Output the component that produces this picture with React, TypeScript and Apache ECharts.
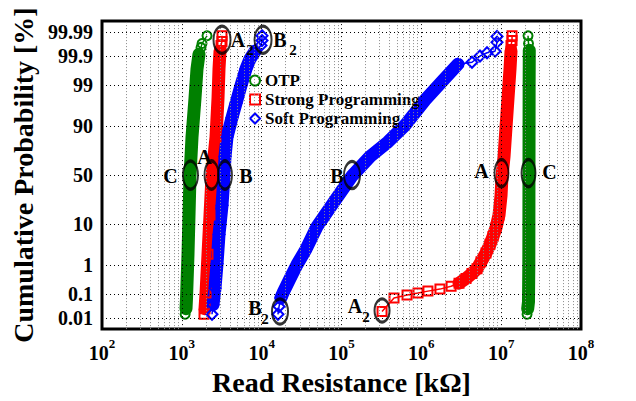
import { useEffect, useRef } from 'react';
import * as echarts from 'echarts';

// Read resistance [kΩ] vs cumulative probability [%] for three programming schemes.
// Each distribution has a dense body (drawn as a solid band) and sparse tail points.

const otpLowBody: [number, number][] = [
  [1641, 99.915], [1549, 99.71], [1462, 97.7], [1341, 83.8], [1266, 49],
  [1230, 15], [1195, 2.0], [1161, 0.25], [1145, 0.07], [1128, 0.026],
];
const otpLowTail: [number, number][] = [[2067, 99.985], [1790, 99.968], [1739, 99.954], [1100, 0.015]];

const otpHighBody: [number, number][] = [
  [2.25e7, 99.94], [2.24e7, 99], [2.23e7, 50], [2.22e7, 1], [2.2e7, 0.05], [2.15e7, 0.026],
];
const otpHighTail: [number, number][] = [[2.17e7, 99.985], [2.2e7, 99.968], [2.11e7, 0.015]];

const strongLowBody: [number, number][] = [
  [3008, 99.935], [2922, 99.71], [2839, 97.7], [2680, 83.8], [2388, 49],
  [2254, 15], [2128, 2.0], [2009, 0.11], [1952, 0.026],
];
const strongLowTail: [number, number][] = [[3186, 99.985], [3186, 99.974], [3096, 99.962], [1896, 0.015]];

const strongHighBody: [number, number][] = [
  [2.965e6, 0.248], [3.63e6, 0.364], [4.31e6, 0.53], [4.98e6, 0.75], [5.59e6, 1.21],
  [6.46e6, 2.14], [7.25e6, 3.6], [7.9e6, 5.5], [8.62e6, 8.6], [9.4e6, 15],
  [9.96e6, 29.7], [1.025e7, 49], [1.086e7, 68.5], [1.15e7, 89.3], [1.218e7, 97.7],
  [1.291e7, 99.71], [1.328e7, 99.935],
];
const strongHighTail: [number, number][] = [
  [3.22e5, 0.02], [4.55e5, 0.071], [6.62e5, 0.092], [9.09e5, 0.11], [1.21e6, 0.129],
  [1.71e6, 0.153], [2.36e6, 0.195], [1.328e7, 99.962], [1.368e7, 99.976], [1.368e7, 99.985],
];

const softLowBody: [number, number][] = [
  [8254, 99.935], [7143, 99.87], [6366, 99.71], [5513, 99.0], [4771, 96.9],
  [4251, 93.2], [3680, 83.8], [3474, 68.5], [3376, 49], [3187, 21.6],
  [2922, 6.1], [2758, 1.06], [2603, 0.166], [2458, 0.038],
];
const softLowTail: [number, number][] = [[1.01e4, 99.985], [1.01e4, 99.976], [9811, 99.962], [2388, 0.015]];

const softHighBody: [number, number][] = [
  [1.74e4, 0.071], [1.85e4, 0.11], [2.27e4, 0.364], [2.77e4, 1.0], [3.59e4, 2.7],
  [4.93e4, 9.0], [7.83e4, 23.1], [1.354e5, 49], [2.28e5, 68.5], [3.82e5, 80.5],
  [6.25e5, 90.2], [1.11e6, 97.4], [1.82e6, 99.25], [2.88e6, 99.8],
];
const softHighTail: [number, number][] = [
  [1.6e4, 0.015], [1.65e4, 0.032], [4.31e6, 99.83], [5.43e6, 99.9], [6.65e6, 99.925],
  [8.38e6, 99.935], [8.87e6, 99.972], [8.87e6, 99.984],
];

const seriesNames = ['OTP', 'Strong Programming', 'Soft Programming'];

// probability-axis ticks (percent)
const probTicks = [0.01, 0.1, 1, 10, 50, 90, 99, 99.9, 99.99];
const probTickLabels = ['0.01', '0.1', '1', '10', '50', '90', '99', '99.9', '99.99'];

// resistance-axis decades
const decades = [1e2, 1e3, 1e4, 1e5, 1e6, 1e7, 1e8];

// annotated points: resistance [kΩ], probability [%], letter, subscript
const markR = [3186, 1.04e4, 1284, 2353, 3474, 1.354e5, 1.01e7, 2.2e7, 1.697e4, 3.22e5];
const markP = [99.978, 99.978, 50, 50, 50, 50, 52, 52, 0.0197, 0.0217];
const markLetter = ['A', 'B', 'C', 'A', 'B', 'B', 'A', 'C', 'B', 'A'];
const markSub = ['2', '2', '', '', '', '', '', '', '2', '2'];

// ellipse size and label placement (px) for each annotation
const markSize: [number, number][] = [
  [17, 27], [17, 27], [15, 28], [14, 28], [14, 28], [16, 27], [14, 27], [14, 27], [16, 25], [15, 23],
];
const markLetterOffset: [number, number][] = [
  [16, 0], [17, 0], [-20, 1], [-7, -18], [21, 1], [-15, 1], [-20, -2], [21, -1], [-25, -4], [-27, -5],
];
const markSubOffset: [number, number][] = [
  [28, 10], [30, 10], [0, 0], [0, 0], [0, 0], [0, 0], [0, 0], [0, 0], [-15, 7], [-16, 6],
];

const FONT = '"Liberation Serif", "Times New Roman", serif';
const GREEN = '#008000';
const RED = '#ff0000';
const BLUE = '#0000ff';

// inverse of the standard normal CDF (Acklam's rational approximation)
function probit(p: number): number {
  const a = [-3.969683028665376e1, 2.209460984245205e2, -2.759285104469687e2, 1.38357751867269e2, -3.066479806614716e1, 2.506628277459239];
  const b = [-5.447609879822406e1, 1.615858368580409e2, -1.556989798598866e2, 6.680131188771972e1, -1.328068155288572e1];
  const c = [-7.784894002430293e-3, -3.223964580411365e-1, -2.400758277161838, -2.549732539343734, 4.374664141464968, 2.938163982698783];
  const d = [7.784695709041462e-3, 3.224671290700398e-1, 2.445134137142996, 3.754408661907416];
  const pl = 0.02425;
  if (p < pl) {
    const q = Math.sqrt(-2 * Math.log(p));
    return (((((c[0] * q + c[1]) * q + c[2]) * q + c[3]) * q + c[4]) * q + c[5]) / ((((d[0] * q + d[1]) * q + d[2]) * q + d[3]) * q + 1);
  }
  if (p > 1 - pl) {
    const q = Math.sqrt(-2 * Math.log(1 - p));
    return -(((((c[0] * q + c[1]) * q + c[2]) * q + c[3]) * q + c[4]) * q + c[5]) / ((((d[0] * q + d[1]) * q + d[2]) * q + d[3]) * q + 1);
  }
  const q = p - 0.5;
  const r = q * q;
  return ((((((a[0] * r + a[1]) * r + a[2]) * r + a[3]) * r + a[4]) * r + a[5]) * q) / (((((b[0] * r + b[1]) * r + b[2]) * r + b[3]) * r + b[4]) * r + 1);
}

const toXY = (pts: [number, number][]) => pts.map(([r, p]) => [r, probit(p / 100)]);
const sortedAll = (body: [number, number][], tail: [number, number][]) =>
  [...body, ...tail].sort((u, v) => u[1] - v[1]);

const probZ = probTicks.map((p) => probit(p / 100));

function bandSeries(body: [number, number][], color: string) {
  return {
    type: 'line',
    data: toXY(body),
    showSymbol: false,
    silent: true,
    z: 3,
    lineStyle: { width: 13, color, cap: 'round', join: 'round' },
  };
}

function pointSeries(name: string, body: [number, number][], tail: [number, number][], color: string, symbol: string, size: number) {
  return {
    name,
    type: 'line',
    data: toXY(sortedAll(body, tail)),
    symbol,
    symbolSize: size,
    showSymbol: true,
    silent: true,
    z: 4,
    lineStyle: { width: 1.5, color },
    itemStyle: { color: 'rgba(0,0,0,0)', borderColor: color, borderWidth: 2 },
  };
}

function gridLines() {
  const lines: any[] = [];
  for (let i = 0; i < decades.length - 1; i++) {
    for (let k = 2; k <= 9; k++) {
      lines.push({ xAxis: decades[i] * k, lineStyle: { color: '#8a8a8a', width: 1, type: [1, 2] } });
    }
  }
  decades.forEach((d) => lines.push({ xAxis: d, lineStyle: { color: '#000', width: 1, type: [1, 3] } }));
  probZ.forEach((z) => lines.push({ yAxis: z, lineStyle: { color: '#000', width: 1, type: [1, 3] } }));
  return {
    type: 'line',
    data: [],
    silent: true,
    z: 1,
    markLine: { silent: true, symbol: ['none', 'none'], label: { show: false }, animation: false, data: lines },
  };
}

export default function App() {
  const ref = useRef<HTMLDivElement>(null);

  useEffect(() => {
    if (!ref.current) return;
    const chart = echarts.init(ref.current, undefined, { renderer: 'svg' });
    const option: any = {
      animation: false,
      backgroundColor: '#fff',
      grid: { left: 102, top: 21, width: 479, height: 316, show: true, borderColor: '#000', borderWidth: 3, backgroundColor: 'transparent' },
      xAxis: {
        type: 'log',
        logBase: 10,
        min: 1e2,
        max: 1e8,
        axisLine: { show: false },
        axisTick: { show: false },
        splitLine: { show: false },
        name: 'Read Resistance [kΩ]',
        nameLocation: 'middle',
        nameGap: 27,
        nameTextStyle: { fontFamily: FONT, fontWeight: 'bold', fontSize: 28, color: '#000' },
        axisLabel: {
          margin: 8,
          formatter: (v: number) => `{b|10}{s|${Math.round(Math.log10(v))}}`,
          rich: {
            b: { fontFamily: FONT, fontWeight: 'bold', fontSize: 20, color: '#000', lineHeight: 26, verticalAlign: 'bottom' },
            s: { fontFamily: FONT, fontWeight: 'bold', fontSize: 13, color: '#000', lineHeight: 14, verticalAlign: 'top' },
          },
        },
      },
      yAxis: {
        type: 'value',
        min: -4,
        max: 4,
        axisLine: { show: false },
        axisTick: { show: false, customValues: probZ },
        splitLine: { show: false },
        name: 'Cumulative Probability [%]',
        nameLocation: 'middle',
        nameGap: 60,
        nameTextStyle: { fontFamily: FONT, fontWeight: 'bold', fontSize: 28, color: '#000' },
        axisLabel: {
          customValues: probZ,
          margin: 9,
          fontFamily: FONT,
          fontWeight: 'bold',
          fontSize: 20,
          color: '#000',
          formatter: (v: number) => {
            let best = 0;
            probZ.forEach((z, i) => { if (Math.abs(z - v) < Math.abs(probZ[best] - v)) best = i; });
            return probTickLabels[best];
          },
        },
      },
      legend: {
        orient: 'vertical',
        left: 249,
        top: 71,
        padding: 0,
        itemWidth: 10,
        itemHeight: 10,
        itemGap: 0,
        selectedMode: false,
        textStyle: { fontFamily: FONT, fontWeight: 'bold', fontSize: 17, color: '#000', lineHeight: 19 },
        data: [
          { name: seriesNames[0], icon: 'circle', itemStyle: { color: 'rgba(0,0,0,0)', borderColor: GREEN, borderWidth: 2 } },
          { name: seriesNames[1], icon: 'rect', itemStyle: { color: 'rgba(0,0,0,0)', borderColor: RED, borderWidth: 2 } },
          { name: seriesNames[2], icon: 'diamond', itemStyle: { color: 'rgba(0,0,0,0)', borderColor: BLUE, borderWidth: 2 } },
        ],
      },
      series: [
        gridLines(),
        bandSeries(otpLowBody, GREEN),
        bandSeries(otpHighBody, GREEN),
        bandSeries(strongLowBody, RED),
        bandSeries(strongHighBody, RED),
        bandSeries(softLowBody, BLUE),
        bandSeries(softHighBody, BLUE),
        pointSeries(seriesNames[0], otpLowBody, otpLowTail, GREEN, 'circle', 9),
        pointSeries(seriesNames[0], otpHighBody, otpHighTail, GREEN, 'circle', 9),
        pointSeries(seriesNames[1], strongLowBody, strongLowTail, RED, 'rect', 9),
        pointSeries(seriesNames[1], strongHighBody, strongHighTail, RED, 'rect', 9),
        pointSeries(seriesNames[2], softLowBody, softLowTail, BLUE, 'diamond', 11),
        pointSeries(seriesNames[2], softHighBody, softHighTail, BLUE, 'diamond', 11),
        {
          type: 'scatter',
          silent: true,
          z: 6,
          symbol: 'circle',
          itemStyle: { color: 'rgba(0,0,0,0)', borderColor: '#000', borderWidth: 2.5 },
          data: markR.map((r, i) => ({ value: [r, probit(markP[i] / 100)], symbolSize: markSize[i] })),
        },
      ],
    };
    chart.setOption(option);

    // annotation letters placed next to their ellipses
    const elements: any[] = [];
    markR.forEach((r, i) => {
      const pt = chart.convertToPixel({ gridIndex: 0 }, [r, probit(markP[i] / 100)]) as number[];
      if (!pt) return;
      elements.push({
        type: 'text',
        x: pt[0] + markLetterOffset[i][0],
        y: pt[1] + markLetterOffset[i][1],
        z: 10,
        style: { text: markLetter[i], font: `bold 20px ${FONT}`, fill: '#000', align: 'center', verticalAlign: 'middle', textAlign: 'center', textVerticalAlign: 'middle' },
      });
      if (markSub[i]) {
        elements.push({
          type: 'text',
          x: pt[0] + markSubOffset[i][0],
          y: pt[1] + markSubOffset[i][1],
          z: 10,
          style: { text: markSub[i], font: `bold 15px ${FONT}`, fill: '#000', align: 'center', verticalAlign: 'middle', textAlign: 'center', textVerticalAlign: 'middle' },
        });
      }
    });
    chart.setOption({ graphic: { elements } });

    return () => chart.dispose();
  }, []);

  return <div ref={ref} style={{ position: 'absolute', left: 0, top: 0, width: 636, height: 401 }} />;
}
